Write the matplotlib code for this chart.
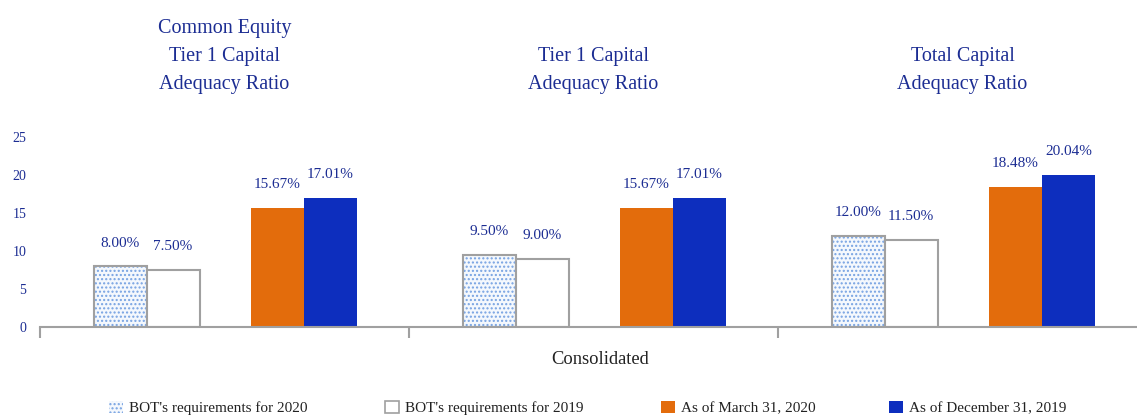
import numpy as np
import matplotlib.pyplot as plt
from matplotlib.transforms import blended_transform_factory

plt.rcParams['font.family'] = ['Liberation Serif', 'DejaVu Serif']
plt.rcParams['hatch.linewidth'] = 1.0

groups = ["Common Equity\nTier 1 Capital\nAdequacy Ratio", "Tier 1 Capital\nAdequacy Ratio",
          "Total Capital\nAdequacy Ratio"]
series = ["BOT's requirements for 2020", "BOT's requirements for 2019",
          "As of March 31, 2020", "As of December 31, 2019"]
bot_2020 = [8.00, 9.50, 12.00]
bot_2019 = [7.50, 9.00, 11.50]
mar_2020 = [15.67, 15.67, 18.48]
dec_2019 = [17.01, 17.01, 20.04]
yticks = [0, 5, 10, 15, 20, 25]

navy = '#1C2D93'
orange = '#E36C0C'
blue = '#0D2EBE'
grey = '#A0A0A0'
dots = '#76A2E2'

fig = plt.figure(figsize=(11.37, 4.17), dpi=100)
ax = fig.add_axes([40 / 1137, 1 - 327 / 417, 1 - 40 / 1137, 190 / 417])

x = np.arange(len(groups))
w = 0.1436
vals = [bot_2020, bot_2019, mar_2020, dec_2019]
offs = [-1.97 * w, -0.97 * w, w, 2 * w]

# dotted bar: hatch first, then grey outline on top
ax.bar(x + offs[0], bot_2020, w, color='#F4F8FD', edgecolor=dots, hatch='....', linewidth=0)
ax.bar(x + offs[0], bot_2020, w, fill=False, edgecolor=grey, linewidth=1.5)
ax.bar(x + offs[1], bot_2019, w, color='white', edgecolor=grey, linewidth=1.5)
ax.bar(x + offs[2], mar_2020, w, color=orange, linewidth=0)
ax.bar(x + offs[3], dec_2019, w, color=blue, linewidth=0)

for o, v in zip(offs, vals):
    for xi, val in zip(x, v):
        ax.annotate(f"{val:.2f}%", (xi + o, val), xytext=(0, 12), textcoords='offset points',
                    ha='center', va='bottom', fontsize=11, color=navy)

ax.set_xlim(-0.5, (1137 - 40) / 369 - 0.5)
ax.set_ylim(0, 25)
ax.set_yticks(yticks)
ax.set_xticks([-0.5, 0.5, 1.5])
ax.set_xticklabels([])
ax.tick_params(axis='y', length=0, labelsize=10, labelcolor=navy, pad=10)
ax.tick_params(axis='x', length=8, width=1.5, color=grey, direction='out')
for s in ['top', 'right', 'left']:
    ax.spines[s].set_visible(False)
ax.spines['bottom'].set_color(grey)
ax.spines['bottom'].set_linewidth(1.5)

trans = blended_transform_factory(ax.transData, fig.transFigure)
for xi, g in zip(x, groups):
    ax.text(xi, 1 - 94 / 417, g, transform=trans, ha='center', va='bottom',
            fontsize=14.5, color=navy, linespacing=1.65)

fig.text(600 / 1137, 1 - 360 / 417, "Consolidated", ha='center', va='center', fontsize=13.3, color='#222222')

handles = [
    plt.Rectangle((0, 0), 1, 1, facecolor='#F4F8FD', edgecolor=dots, hatch='....', linewidth=0),
    plt.Rectangle((0, 0), 1, 1, facecolor='white', edgecolor=grey, linewidth=1.2),
    plt.Rectangle((0, 0), 1, 1, facecolor=orange, linewidth=0),
    plt.Rectangle((0, 0), 1, 1, facecolor=blue, linewidth=0),
]
leg_x = [109, 385, 661, 889]
for h, lab, lx in zip(handles, series, leg_x):
    fig.legend([h], [lab], loc='center left', bbox_to_anchor=(lx / 1137, 1 - 408 / 417),
               frameon=False, fontsize=11, handlelength=0.9, handleheight=0.9,
               handletextpad=0.4, borderpad=0, borderaxespad=0, labelcolor='#222222')

fig.savefig('out.png', dpi=100)
